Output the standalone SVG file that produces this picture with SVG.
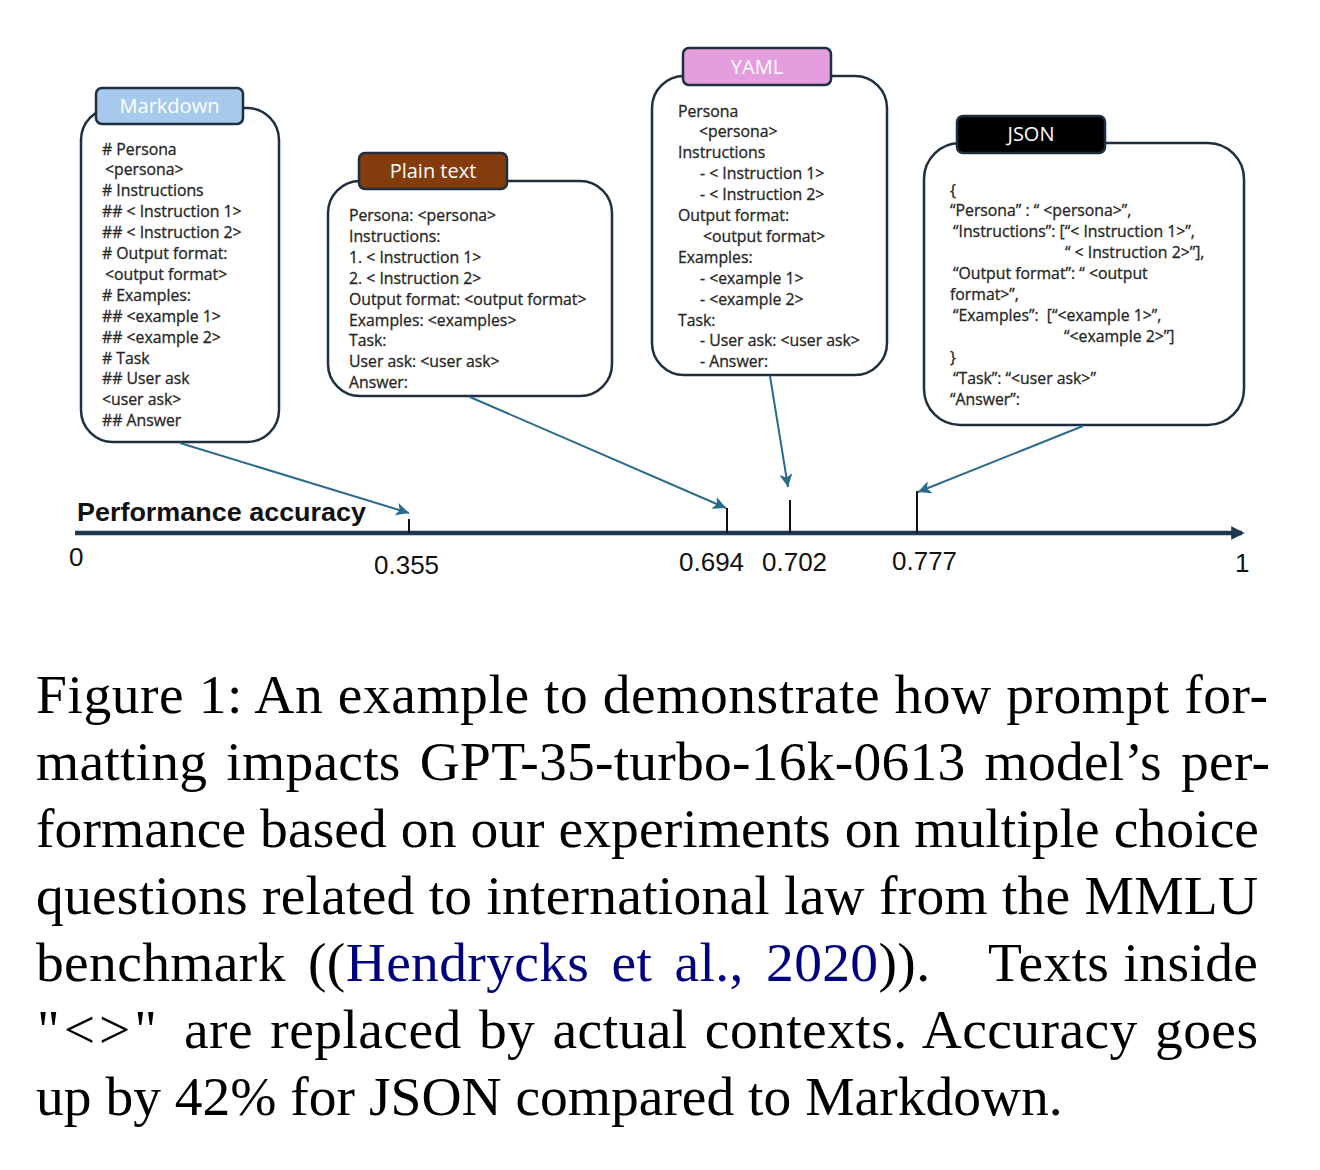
<svg xmlns="http://www.w3.org/2000/svg" width="1320" height="1170" viewBox="0 0 1320 1170">
<style>
.box{fill:#fff;stroke:#1f2f3f;stroke-width:2.5}
.tab{stroke:#1f2f3f;stroke-width:2.5}
.tabt{font-family:"Open Sans","Liberation Sans",sans-serif;font-size:20px;fill:#fff;text-anchor:middle}
.bt{font-family:"Open Sans","Liberation Sans",sans-serif;font-size:15.8px;fill:#262626;stroke:#262626;stroke-width:0.3}
.conn{stroke:#2a6a8c;stroke-width:2;fill:none}
.tick{stroke:#111;stroke-width:2}
.num{font-family:"Liberation Sans",Arial,sans-serif;font-size:26px;fill:#111}
.cap{font-family:"Liberation Serif","Times New Roman",serif;font-size:55.5px;fill:#000}
.cite{fill:#00007f}
</style>
<defs>
<marker id="ah" viewBox="0 0 10 10" refX="10" refY="5" markerWidth="6.5" markerHeight="6.5" orient="auto" markerUnits="strokeWidth">
<path d="M0,0 L10,5 L0,10 L2.5,5 z" fill="#2a6a8c"/>
</marker>
<marker id="axh" viewBox="0 0 10 10" refX="8" refY="5" markerWidth="3" markerHeight="3" orient="auto" markerUnits="strokeWidth">
<path d="M0,0 L10,5 L0,10 z" fill="#1b3850"/>
</marker>
</defs>

<g id="markdown">
<rect class="box" x="81" y="108" width="198" height="334" rx="32"/>
<rect class="tab" x="96" y="88" width="147" height="36" rx="6" fill="#a6c9ec"/>
<text class="tabt" x="169.5" y="113">Markdown</text>
<text class="bt">
<tspan x="102" y="154.5"># Persona</tspan>
<tspan x="105" y="175.4">&lt;persona&gt;</tspan>
<tspan x="102" y="196.3"># Instructions</tspan>
<tspan x="102" y="217.2">## &lt; Instruction 1&gt;</tspan>
<tspan x="102" y="238.1">## &lt; Instruction 2&gt;</tspan>
<tspan x="102" y="259"># Output format:</tspan>
<tspan x="105" y="279.9">&lt;output format&gt;</tspan>
<tspan x="102" y="300.8"># Examples:</tspan>
<tspan x="102" y="321.7">## &lt;example 1&gt;</tspan>
<tspan x="102" y="342.6">## &lt;example 2&gt;</tspan>
<tspan x="102" y="363.5"># Task</tspan>
<tspan x="102" y="384.4">## User ask</tspan>
<tspan x="102" y="405.3">&lt;user ask&gt;</tspan>
<tspan x="102" y="426.2">## Answer</tspan>
</text>
</g>

<g id="plaintext">
<rect class="box" x="328" y="181" width="284" height="215" rx="32"/>
<rect class="tab" x="359" y="153" width="148" height="36" rx="6" fill="#843c0c"/>
<text class="tabt" x="433" y="178">Plain text</text>
<text class="bt">
<tspan x="349" y="221">Persona: &lt;persona&gt;</tspan>
<tspan x="349" y="241.9">Instructions:</tspan>
<tspan x="349" y="262.8">1. &lt; Instruction 1&gt;</tspan>
<tspan x="349" y="283.7">2. &lt; Instruction 2&gt;</tspan>
<tspan x="349" y="304.6">Output format: &lt;output format&gt;</tspan>
<tspan x="349" y="325.5">Examples: &lt;examples&gt;</tspan>
<tspan x="349" y="346.4">Task:</tspan>
<tspan x="349" y="367.3">User ask: &lt;user ask&gt;</tspan>
<tspan x="349" y="388.2">Answer:</tspan>
</text>
</g>

<g id="yaml">
<rect class="box" x="652" y="76" width="235" height="299" rx="32"/>
<rect class="tab" x="683" y="48" width="148" height="37" rx="6" fill="#e59edd"/>
<text class="tabt" x="757" y="73.5">YAML</text>
<text class="bt">
<tspan x="678" y="116.5">Persona</tspan>
<tspan x="699" y="137.4">&lt;persona&gt;</tspan>
<tspan x="678" y="158.3">Instructions</tspan>
<tspan x="700" y="179.2">- &lt; Instruction 1&gt;</tspan>
<tspan x="700" y="200.1">- &lt; Instruction 2&gt;</tspan>
<tspan x="678" y="221">Output format:</tspan>
<tspan x="703" y="241.9">&lt;output format&gt;</tspan>
<tspan x="678" y="262.8">Examples:</tspan>
<tspan x="700" y="283.7">- &lt;example 1&gt;</tspan>
<tspan x="700" y="304.6">- &lt;example 2&gt;</tspan>
<tspan x="678" y="325.5">Task:</tspan>
<tspan x="700" y="346.4">- User ask: &lt;user ask&gt;</tspan>
<tspan x="700" y="367.3">- Answer:</tspan>
</text>
</g>

<g id="json">
<rect class="box" x="924" y="143" width="320" height="282" rx="36"/>
<rect class="tab" x="957" y="116" width="148" height="37" rx="6" fill="#000"/>
<text class="tabt" x="1031" y="141">JSON</text>
<text class="bt">
<tspan x="950" y="195.5">{</tspan>
<tspan x="950" y="215.5">“Persona” : “ &lt;persona&gt;”,</tspan>
<tspan x="953" y="236.5">“Instructions”: [“&lt; Instruction 1&gt;”,</tspan>
<tspan x="1065" y="257.5">“ &lt; Instruction 2&gt;”],</tspan>
<tspan x="953" y="278.5">“Output format”: “ &lt;output</tspan>
<tspan x="950" y="299.5">format&gt;”,</tspan>
<tspan x="953" y="320.5">“Examples”:&#160; [“&lt;example 1&gt;”,</tspan>
<tspan x="1064" y="341.5">“&lt;example 2&gt;”]</tspan>
<tspan x="950" y="362.5">}</tspan>
<tspan x="953" y="383.5">“Task”: “&lt;user ask&gt;”</tspan>
<tspan x="950" y="404.5">“Answer”:</tspan>
</text>
</g>

<g id="axis">
<line x1="75" y1="533" x2="1242" y2="533" stroke="#1b3850" stroke-width="4.5" marker-end="url(#axh)"/>
<line class="tick" x1="409" y1="519" x2="409" y2="533"/>
<line class="tick" x1="727" y1="508" x2="727" y2="533"/>
<line class="tick" x1="790" y1="500" x2="790" y2="533"/>
<line class="tick" x1="917" y1="491" x2="917" y2="533"/>
<text x="77" y="521" font-family="Liberation Sans,Arial,sans-serif" font-weight="bold" font-size="26" fill="#111" textLength="289" lengthAdjust="spacingAndGlyphs">Performance accuracy</text>
<text class="num" x="69" y="566">0</text>
<text class="num" x="374" y="574">0.355</text>
<text class="num" x="679" y="571">0.694</text>
<text class="num" x="762" y="571">0.702</text>
<text class="num" x="892" y="570">0.777</text>
<text class="num" x="1235" y="572">1</text>
</g>

<g id="connectors">
<line class="conn" x1="180" y1="443" x2="409" y2="513" marker-end="url(#ah)"/>
<line class="conn" x1="470" y1="397" x2="726" y2="508" marker-end="url(#ah)"/>
<line class="conn" x1="770" y1="376" x2="788" y2="487" marker-end="url(#ah)"/>
<line class="conn" x1="1083" y1="426" x2="918" y2="492" marker-end="url(#ah)"/>
</g>

<g id="caption">
<text class="cap" x="36" y="713" textLength="1232" lengthAdjust="spacing">Figure 1: An example to demonstrate how prompt for-</text>
<text class="cap" x="36" y="780" word-spacing="5" textLength="1234" lengthAdjust="spacing">matting impacts GPT-35-turbo-16k-0613 model’s per-</text>
<text class="cap" x="36" y="847" textLength="1223" lengthAdjust="spacing">formance based on our experiments on multiple choice</text>
<text class="cap" x="36" y="914" textLength="1222" lengthAdjust="spacing">questions related to international law from the MMLU</text>
<text class="cap" x="36" y="981" word-spacing="8" textLength="894" lengthAdjust="spacing">benchmark ((<tspan class="cite">Hendrycks et al., 2020</tspan>)).</text>
<text class="cap" x="988" y="981" textLength="270" lengthAdjust="spacing">Texts inside</text>
<text class="cap" x="37" y="1048" textLength="120" lengthAdjust="spacing">"&lt;&gt;"</text>
<text class="cap" x="184" y="1048" word-spacing="3" textLength="1074" lengthAdjust="spacing">are replaced by actual contexts. Accuracy goes</text>
<text class="cap" x="36" y="1115">up by 42% for JSON compared to Markdown.</text>
</g>
</svg>
